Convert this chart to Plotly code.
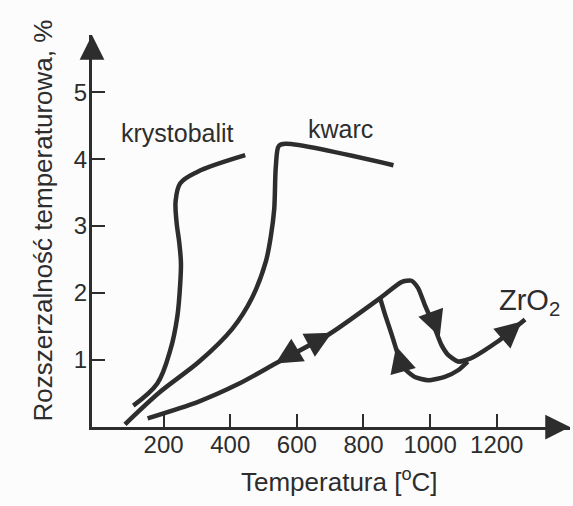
import plotly.graph_objects as go

# --- data ---
kryst_T = [109, 181, 220, 241, 250, 252, 247, 239, 236, 250, 301, 445]
kryst_e = [0.31, 0.64, 1.14, 1.64, 2.15, 2.45, 2.75, 3.05, 3.37, 3.64, 3.81, 4.06]

kwarc_T = [84, 188, 307, 406, 466, 507, 522, 532, 537, 546, 566, 890]
kwarc_e = [0.03, 0.51, 0.97, 1.46, 1.93, 2.47, 2.85, 3.25, 3.90, 4.20, 4.23, 3.91]

zr_heat_T = [152, 300, 427, 536, 700, 850, 914, 944, 964, 984, 1014, 1034, 1054, 1084, 1123, 1203, 1285]
zr_heat_e = [0.12, 0.36, 0.64, 0.94, 1.39, 1.92, 2.16, 2.18, 2.07, 1.82, 1.47, 1.22, 1.07, 0.97, 1.02, 1.27, 1.60]

zr_cool_T = [850, 865, 885, 904, 924, 954, 994, 1044, 1084, 1113]
zr_cool_e = [1.92, 1.67, 1.37, 1.07, 0.86, 0.74, 0.69, 0.74, 0.84, 0.97]

# arrowheads on the ZrO2 curve: tip and tail (data coordinates)
arrow_tip_T = [536, 705, 1029, 898, 1275]
arrow_tip_e = [0.94, 1.40, 1.34, 1.20, 1.57]
arrow_tail_T = [596, 645, 1004, 912, 1215]
arrow_tail_e = [1.12, 1.24, 1.68, 0.95, 1.31]

x_ticks = [200, 400, 600, 800, 1000, 1200]
y_ticks = [1, 2, 3, 4, 5]

labels = ["krystobalit", "kwarc", "ZrO<sub>2</sub>"]
label_T = [242, 731, 1201]
label_e = [4.40, 4.45, 1.86]

x_range = [-15, 1420]
y_range = [-0.01, 5.86]

INK = "#2d2d2d"
FONT = "Liberation Sans, Arial, sans-serif"

fig = go.Figure()
for T, e, sm in [(kryst_T, kryst_e, 1.0), (kwarc_T, kwarc_e, 0.9),
                 (zr_heat_T, zr_heat_e, 0.6), (zr_cool_T, zr_cool_e, 0.6)]:
    fig.add_trace(go.Scatter(x=T, y=e, mode="lines",
                             line=dict(color=INK, width=4.5, shape="spline", smoothing=sm),
                             hoverinfo="skip", showlegend=False))

for tx, ty, ax, ay in zip(arrow_tip_T, arrow_tip_e, arrow_tail_T, arrow_tail_e):
    fig.add_annotation(x=tx, y=ty, ax=ax, ay=ay, xref="x", yref="y", axref="x", ayref="y",
                       text="", showarrow=True, arrowhead=2, arrowsize=2.1, arrowwidth=2.5,
                       arrowcolor=INK, standoff=0)

# axis arrowheads
fig.add_annotation(x=x_range[1], y=y_range[0], ax=x_range[1] - 60, ay=y_range[0], xref="x", yref="y",
                   axref="x", ayref="y", text="", showarrow=True, arrowhead=2, arrowsize=1.65,
                   arrowwidth=3, arrowcolor=INK, standoff=0)
fig.add_annotation(x=x_range[0], y=y_range[1], ax=x_range[0], ay=y_range[1] - 0.3, xref="x", yref="y",
                   axref="x", ayref="y", text="", showarrow=True, arrowhead=2, arrowsize=1.65,
                   arrowwidth=3, arrowcolor=INK, standoff=0)

for txt, T, e in zip(labels, label_T, label_e):
    big = txt.startswith("ZrO")
    fig.add_annotation(x=T, y=e, xref="x", yref="y", text=txt, showarrow=False,
                       xanchor="left" if big else "center", yanchor="middle",
                       font=dict(family=FONT, size=29 if big else 25, color=INK))

fig.add_annotation(xref="paper", yref="paper", x=-0.1025, y=0.527, text="Rozszerzalność temperaturowa, %",
                   textangle=-90, showarrow=False, xanchor="center", yanchor="middle",
                   font=dict(family=FONT, size=26, color=INK))
fig.add_annotation(xref="paper", yref="paper", x=0.517, y=-0.136, text="Temperatura [<sup>o</sup>C]",
                   showarrow=False, xanchor="center", yanchor="middle",
                   font=dict(family=FONT, size=26, color=INK))

fig.update_xaxes(range=x_range, tickvals=x_ticks, ticks="inside", ticklen=13, tickwidth=2,
                 tickcolor=INK, showline=True, linewidth=3, linecolor=INK, showgrid=False,
                 zeroline=False, tickfont=dict(family=FONT, size=24, color=INK), ticklabelstandoff=-6)
fig.update_yaxes(range=y_range, tickvals=y_ticks, ticks="inside", ticklen=13, tickwidth=2,
                 tickcolor=INK, showline=True, linewidth=3, linecolor=INK, showgrid=False,
                 zeroline=False, tickfont=dict(family=FONT, size=24, color=INK), ticklabelstandoff=-3)

fig.update_layout(width=573, height=506, autosize=False,
                  margin=dict(l=92, r=3, t=35, b=79),
                  paper_bgcolor="#fcfcfc", plot_bgcolor="#fcfcfc",
                  showlegend=False)

fig.write_html("out.html")
